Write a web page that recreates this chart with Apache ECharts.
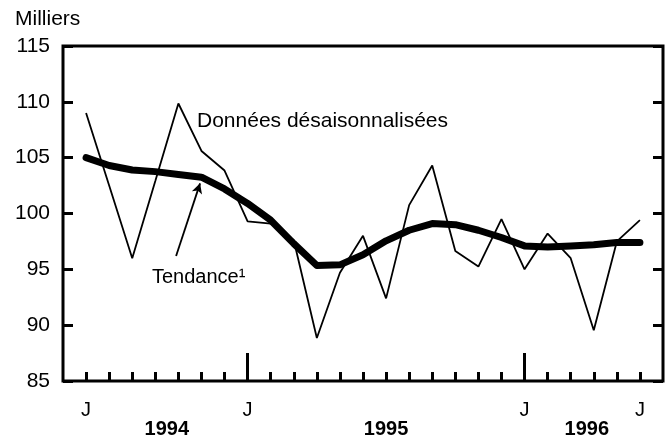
<!DOCTYPE html>
<html>
<head>
<meta charset="utf-8">
<script src="https://cdn.jsdelivr.net/npm/echarts@6/dist/echarts.min.js"></script>
<style>
  html, body { margin: 0; padding: 0; background: #ffffff; }
  #chart { width: 669px; height: 439px; }
</style>
</head>
<body>
<div id="chart"></div>
<script>
// mois de juin 1994 (0) a juin 1996 (24)
var months = [0, 1, 2, 3, 4, 5, 6, 7, 8, 9, 10, 11, 12, 13, 14, 15, 16, 17, 18, 19, 20, 21, 22, 23, 24]
var seasonallyAdjusted = [109.0, 102.5, 96.0, 102.9, 109.85, 105.6, 103.85, 99.3, 99.1, 97.6, 88.85, 94.7, 98.0,
  92.4, 100.75, 104.3, 96.65, 95.25, 99.5, 95.0, 98.2, 96.0, 89.55, 97.5, 99.4]
var trend = [105.0, 104.3, 103.9, 103.75, 103.5, 103.25, 102.2, 100.9, 99.4, 97.3, 95.35, 95.4, 96.3,
  97.55, 98.5, 99.1, 99.0, 98.5, 97.85, 97.1, 97.0, 97.1, 97.2, 97.4, 97.4]
var monthLabelPos = [0, 7, 19, 24]
var yearTicks = [7, 19]
var yearLabelPos = [3.5, 13, 21.7]
var yearLabels = ['1994', '1995', '1996']

var font = '"Liberation Sans", Arial, sans-serif'

function pairs (vals) {
  return months.map(function (m, i) { return [m, vals[i]] })
}

var chart = echarts.init(document.getElementById('chart'), null, { renderer: 'canvas' })
chart.setOption({
  animation: false,
  textStyle: { fontFamily: font, color: '#000' },
  grid: {
    left: 63,
    right: 6,
    top: 46,
    bottom: 55,
    show: true,
    borderColor: '#000',
    borderWidth: 3,
    backgroundColor: 'transparent'
  },
  xAxis: [{
    type: 'value',
    min: -1,
    max: 25,
    interval: 1,
    position: 'bottom',
    axisLine: { show: false, onZero: false },
    splitLine: { show: false },
    axisTick: {
      inside: true,
      length: 9,
      customValues: months,
      lineStyle: { color: '#000', width: 3 }
    },
    axisLabel: {
      customValues: monthLabelPos,
      formatter: function () { return 'J' },
      margin: 19,
      fontSize: 20,
      color: '#000',
      fontFamily: font
    }
  }, {
    type: 'value',
    min: -1,
    max: 25,
    position: 'bottom',
    axisLine: { show: false, onZero: false },
    splitLine: { show: false },
    axisTick: {
      inside: true,
      length: 28,
      customValues: yearTicks,
      lineStyle: { color: '#000', width: 3 }
    },
    axisLabel: {
      customValues: yearLabelPos,
      formatter: function (v) { return yearLabels[yearLabelPos.indexOf(v)] },
      margin: 38,
      fontSize: 20,
      fontWeight: 'bold',
      color: '#000',
      fontFamily: font
    }
  }],
  yAxis: [{
    type: 'value',
    min: 85,
    max: 115,
    interval: 5,
    position: 'left',
    axisLine: { show: false, onZero: false },
    splitLine: { show: false },
    axisTick: { show: true, inside: true, length: 10, lineStyle: { color: '#000', width: 3 } },
    axisLabel: { margin: 13, fontSize: 21, color: '#000', fontFamily: font }
  }, {
    type: 'value',
    min: 85,
    max: 115,
    interval: 5,
    position: 'right',
    axisLine: { show: false, onZero: false },
    splitLine: { show: false },
    axisTick: { show: true, inside: true, length: 10, lineStyle: { color: '#000', width: 3 } },
    axisLabel: { show: false }
  }],
  series: [{
    name: 'Données désaisonnalisées',
    type: 'line',
    data: pairs(seasonallyAdjusted),
    showSymbol: false,
    lineStyle: { color: '#000', width: 1.8 },
    z: 3
  }, {
    name: 'Tendance',
    type: 'line',
    data: pairs(trend),
    showSymbol: false,
    lineStyle: { color: '#000', width: 7, cap: 'round', join: 'round' },
    z: 2,
    markLine: {
      silent: true,
      symbol: ['none', 'arrow'],
      symbolSize: [8, 10],
      label: { show: false },
      lineStyle: { color: '#000', width: 1.8, type: 'solid' },
      data: [[{ coord: [3.9, 96.2] }, { coord: [4.94, 102.7] }]]
    }
  }],
  graphic: [{
    type: 'text',
    left: 15,
    top: 9,
    style: { text: 'Milliers', font: '21px ' + font, fill: '#000' }
  }, {
    type: 'text',
    left: 197,
    top: 111,
    style: { text: 'Données désaisonnalisées', font: '21px ' + font, fill: '#000' }
  }, {
    type: 'text',
    left: 152,
    top: 267,
    style: { text: 'Tendance¹', font: '20px ' + font, fill: '#000' }
  }]
})
</script>
</body>
</html>
